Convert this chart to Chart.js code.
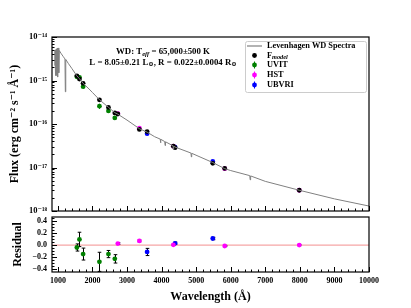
<!DOCTYPE html>
<html><head><meta charset="utf-8">
<script src="https://cdn.jsdelivr.net/npm/chart.js@4.4.1/dist/chart.umd.min.js"></script>
<style>
html,body{margin:0;padding:0;background:#fff;}
#wrap{position:relative;width:411px;height:308px;}
#wrap canvas{position:absolute;left:0;top:0;}
</style></head>
<body><div id="wrap"><canvas id="c1" width="411" height="308"></canvas><canvas id="c2" width="411" height="308"></canvas></div>
<script>
// ---- model spectrum (Levenhagen WD) ----
const specWave = [912,918,923,929,934,941,947,956,967,980,993,1005,1026,1040,1100,1150,1205,1216,1228,1300,1400,1500,1549,1624,1730,1900,2000,2202,2463,2647,2734,3000,3358,3581,3800,3960,3970,3980,4090,4102,4114,4330,4340,4350,4390,4850,4861,4872,5480,5826,6000,6550,6563,6576,7000,7983,9000,10000];
const specFlux = [2.2e-15,4.9e-15,1.3e-15,5.0e-15,1.4e-15,5.1e-15,1.3e-15,5.3e-15,1.4e-15,5.5e-15,1.2e-15,5.6e-15,1.5e-15,4.9e-15,4.1e-15,3.6e-15,3.13e-15,5.5e-16,3.05e-15,2.48e-15,1.91e-15,1.46e-15,1.28e-15,1.1e-15,8.6e-16,6.4e-16,5.3e-16,3.62e-16,2.42e-16,1.82e-16,1.68e-16,1.23e-16,7.8e-17,6.5e-17,5.1e-17,4.5e-17,3.7e-17,4.45e-17,3.95e-17,3.2e-17,3.9e-17,3.15e-17,2.6e-17,3.1e-17,2.95e-17,2.15e-17,1.75e-17,2.12e-17,1.3e-17,9.4e-18,8.5e-18,6.5e-18,5.2e-18,6.4e-18,4.8e-18,3.0e-18,1.9e-18,1.3e-18];

// ---- photometry ----
const uvitWave = [1549,1624,1730,2202,2463,2647];
const uvitFlux = [1.22e-15,1.18e-15,7.2e-16,2.57e-16,2.0e-16,1.38e-16];
const uvitErr  = [8e-17,1.2e-16,6e-17,3.5e-17,1.5e-17,1.0e-17];
const uvitModel= [1.28e-15,1.08e-15,8.6e-16,3.6e-16,2.4e-16,1.8e-16];
const uvitRes  = [-0.04,0.095,-0.15,-0.28,-0.15,-0.23];
const uvitResErr=[0.06,0.12,0.1,0.16,0.06,0.07];

const hstWave = [2734,3358,4341,5826,7983];
const hstFlux = [1.74e-16,8.0e-17,3.1e-17,9.4e-18,3.0e-18];
const hstErr  = [1.0e-17,4e-18,1.5e-18,5e-19,1.5e-19];
const hstModel= [1.7e-16,7.5e-17,3.1e-17,9.5e-18,3.0e-18];
const hstRes  = [0.025,0.07,0.005,-0.015,0.0];
const hstResErr=[0.015,0.015,0.01,0.01,0.01];

const ubvriWave = [3581,4390,5480];
const ubvriFlux = [6.0e-17,2.95e-17,1.38e-17];
const ubvriErr  = [3e-18,1.5e-18,6e-19];
const ubvriModel= [6.7e-17,2.85e-17,1.25e-17];
const ubvriRes  = [-0.115,0.03,0.11];
const ubvriResErr=[0.06,0.02,0.02];

// ---- ticks ----
const xTicks = [1000,2000,3000,4000,5000,6000,7000,8000,9000,10000];
const xTickLabels = ['1000','2000','3000','4000','5000','6000','7000','8000','9000','10000'];
const fluxTicks = [1e-18,1e-17,1e-16,1e-15,1e-14];
const fluxTickLabels = ['10⁻¹⁸','10⁻¹⁷','10⁻¹⁶','10⁻¹⁵','10⁻¹⁴'];
const resTicks = [-0.4,-0.2,0,0.2,0.4];
const resTickLabels = ['−0.4','−0.2','0.0','0.2','0.4'];

const GREEN='#008000', MAGENTA='#ff00ff', BLUE='#0000ff', GRAY='#808080';
const SERIF='"Liberation Serif","DejaVu Serif",serif';
const XMIN=830, XMAX=10000;

function pts(xs, ys){ return xs.map((x,i)=>({x:x,y:ys[i]})); }

function drawFrame(chart){
  const a=chart.chartArea, ctx=chart.ctx;
  ctx.save(); ctx.strokeStyle='#000'; ctx.lineWidth=1.2;
  ctx.strokeRect(a.left, a.top, a.right-a.left, a.bottom-a.top);
  ctx.restore();
}
function drawXTicks(chart){
  const a=chart.chartArea, ctx=chart.ctx, xs=chart.scales.x;
  ctx.save(); ctx.strokeStyle='#000'; ctx.lineWidth=1;
  for(let v=1000; v<=XMAX; v+=200){
    const px=Math.round(xs.getPixelForValue(v))+0.5;
    const len = (v%1000===0)?5:2.5;
    ctx.beginPath(); ctx.moveTo(px,a.bottom); ctx.lineTo(px,a.bottom-len); ctx.stroke();
  }
  ctx.restore();
}
const errPlugin = {
  id:'errbars',
  beforeDatasetDraw(chart, args){
    const ds=chart.data.datasets[args.index];
    if(!ds.errors) return;
    const ctx=chart.ctx, xs=chart.scales.x, ys=chart.scales.y;
    ctx.save(); ctx.strokeStyle=ds.errColor||ds.backgroundColor; ctx.lineWidth=1;
    ds.data.forEach((p,i)=>{
      const e=ds.errors[i];
      const px=Math.round(xs.getPixelForValue(p.x))+0.5;
      const y1=ys.getPixelForValue(p.y-e), y2=ys.getPixelForValue(p.y+e);
      ctx.beginPath(); ctx.moveTo(px,y1); ctx.lineTo(px,y2); ctx.stroke();
      if(ds.cap){
        ctx.beginPath(); ctx.moveTo(px-ds.cap,y1); ctx.lineTo(px+ds.cap,y1);
        ctx.moveTo(px-ds.cap,y2); ctx.lineTo(px+ds.cap,y2); ctx.stroke();
      }
    });
    ctx.restore();
  }
};

function drawRich(ctx, segs, cx, y, base){
  let w=0;
  segs.forEach(s=>{ ctx.font=(s.it?'italic ':'')+'bold '+(s.sz||base)+'px '+SERIF; s.w=ctx.measureText(s.t).width; w+=s.w; });
  let x = (cx===null)? 0 : cx - w/2;
  return {w:w, draw:(x0)=>{ let xx=(x0!==undefined)?x0:x;
    segs.forEach(s=>{ ctx.font=(s.it?'italic ':'')+'bold '+(s.sz||base)+'px '+SERIF; ctx.fillText(s.t, xx, y+(s.dy||0)); xx+=s.w; }); }};
}

const mainDecor = {
  id:'mainDecor',
  afterDraw(chart){
    const ctx=chart.ctx, a=chart.chartArea, ys=chart.scales.y;
    drawFrame(chart); drawXTicks(chart);
    ctx.save(); ctx.strokeStyle='#000'; ctx.lineWidth=1;
    for(let d=-18; d<=-14; d++){
      for(let k=1;k<=9;k++){
        const v=k*Math.pow(10,d); if(v>1.0001e-14) break;
        const py=Math.round(ys.getPixelForValue(v))+0.5;
        const len=(k===1)?5:2.5;
        ctx.beginPath(); ctx.moveTo(a.left,py); ctx.lineTo(a.left+len,py); ctx.stroke();
      }
    }
    ctx.restore();
    // annotation
    ctx.save(); ctx.fillStyle='#000'; ctx.textBaseline='middle';
    const l1=drawRich(ctx,[{t:'WD: T'},{t:'eff',it:true,sz:6.5,dy:2},{t:' = 65,000±500 K'}],163,52,8.8); l1.draw();
    const l2=drawRich(ctx,[{t:'L = 8.05±0.21 L'},{t:'⊙',sz:6.5,dy:2},{t:', R = 0.022±0.0004 R'},{t:'⊙',sz:6.5,dy:2}],163,62.5,8.8); l2.draw();
    ctx.restore();
    // legend
    ctx.save();
    const bx=245, by=41, bw=121, bh=51;
    ctx.beginPath(); ctx.roundRect(bx+0.5,by+0.5,bw,bh,2);
    ctx.fillStyle='rgba(255,255,255,0.85)'; ctx.fill();
    ctx.strokeStyle='#cccccc'; ctx.lineWidth=1; ctx.stroke();
    const rows=[46,55.5,65,75,85];
    ctx.strokeStyle=GRAY; ctx.lineWidth=1.2;
    ctx.beginPath(); ctx.moveTo(247,rows[0]); ctx.lineTo(262,rows[0]); ctx.stroke();
    const mk=[['#000',false],[GREEN,true],[MAGENTA,true],[BLUE,true]];
    mk.forEach((m,i)=>{
      const y=rows[i+1];
      if(m[1]){ ctx.strokeStyle=m[0]; ctx.lineWidth=1; ctx.beginPath(); ctx.moveTo(254.5,y-3.5); ctx.lineTo(254.5,y+3.5); ctx.stroke(); }
      ctx.fillStyle=m[0]; ctx.beginPath(); ctx.arc(254.5,y,2.4,0,Math.PI*2); ctx.fill();
    });
    ctx.fillStyle='#000'; ctx.textBaseline='middle';
    ctx.font='bold 8.3px '+SERIF;
    ctx.fillText('Levenhagen WD Spectra',267,rows[0]);
    const f=drawRich(ctx,[{t:'F'},{t:'model',it:true,sz:6.3,dy:2}],null,rows[1],8.3); f.draw(267);
    ctx.font='bold 8.3px '+SERIF;
    ctx.fillText('UVIT',267,rows[2]); ctx.fillText('HST',267,rows[3]); ctx.fillText('UBVRI',267,rows[4]);
    ctx.restore();
  }
};

const resDecor = {
  id:'resDecor',
  beforeDatasetsDraw(chart){
    const ctx=chart.ctx, a=chart.chartArea, ys=chart.scales.y;
    const py=ys.getPixelForValue(0);
    ctx.save(); ctx.strokeStyle='#f6a6a6'; ctx.lineWidth=1.3;
    ctx.beginPath(); ctx.moveTo(a.left,py); ctx.lineTo(a.right,py); ctx.stroke(); ctx.restore();
  },
  afterDraw(chart){
    const ctx=chart.ctx, a=chart.chartArea, ys=chart.scales.y;
    drawFrame(chart); drawXTicks(chart);
    ctx.save(); ctx.strokeStyle='#000'; ctx.lineWidth=1;
    for(let i=-8;i<=9;i++){
      const v=i*0.05; const py=Math.round(ys.getPixelForValue(v))+0.5;
      if(py<a.top+1||py>a.bottom-1) continue;
      const len=(i%4===0)?5:2.5;
      ctx.beginPath(); ctx.moveTo(a.left,py); ctx.lineTo(a.left+len,py); ctx.stroke();
    }
    ctx.restore();
  }
};

const tickFont={family:SERIF,size:8,weight:'bold'};
const logTickFont={family:SERIF,size:8.5,weight:'bold'};
const titleFont={family:SERIF,size:12,weight:'bold'};

new Chart(document.getElementById('c1'),{
  type:'scatter',
  data:{datasets:[
    {type:'line',data:pts(specWave,specFlux),borderColor:GRAY,borderWidth:1,pointRadius:0,fill:false,tension:0},
    {data:pts([].concat(uvitWave,hstWave,ubvriWave),[].concat(uvitModel,hstModel,ubvriModel)),backgroundColor:'#000',borderWidth:0,pointRadius:2.4},
    {data:pts(uvitWave,uvitFlux),errors:uvitErr,backgroundColor:GREEN,borderWidth:0,pointRadius:2.4},
    {data:pts(hstWave,hstFlux),errors:hstErr,backgroundColor:MAGENTA,borderWidth:0,pointRadius:2.4},
    {data:pts(ubvriWave,ubvriFlux),errors:ubvriErr,backgroundColor:BLUE,borderWidth:0,pointRadius:2.4}
  ]},
  options:{
    responsive:false, animation:false, devicePixelRatio:1,
    layout:{padding:{left:0,top:37,right:42,bottom:97}},
    plugins:{legend:{display:false},tooltip:{enabled:false}},
    scales:{
      x:{type:'linear',min:XMIN,max:XMAX,display:false},
      y:{type:'logarithmic',min:1e-18,max:1e-14,
        afterBuildTicks:(s)=>{s.ticks=fluxTicks.map(v=>({value:v}));},
        afterFit:(s)=>{s.width=52;},
        grid:{display:false,drawTicks:false}, border:{display:false},
        ticks:{font:logTickFont,color:'#000',padding:5,autoSkip:false,callback:(v,i)=>fluxTickLabels[i]},
        title:{display:true,text:'Flux (erg cm⁻² s⁻¹ Å⁻¹)',font:titleFont,color:'#000',padding:{top:8,bottom:0}}
      }
    }
  },
  plugins:[errPlugin, mainDecor]
});

new Chart(document.getElementById('c2'),{
  type:'scatter',
  data:{datasets:[
    {data:pts(uvitWave,uvitRes),errors:uvitResErr,errColor:'#000',cap:1.8,backgroundColor:GREEN,borderWidth:0,pointRadius:2.4},
    {data:pts(hstWave,hstRes),errors:hstResErr,errColor:'#000',cap:1.8,backgroundColor:MAGENTA,borderWidth:0,pointRadius:2.4},
    {data:pts(ubvriWave,ubvriRes),errors:ubvriResErr,errColor:'#000',cap:1.8,backgroundColor:BLUE,borderWidth:0,pointRadius:2.4}
  ]},
  options:{
    responsive:false, animation:false, devicePixelRatio:1,
    layout:{padding:{left:0,top:217,right:42,bottom:0}},
    plugins:{legend:{display:false},tooltip:{enabled:false}},
    scales:{
      x:{type:'linear',min:XMIN,max:XMAX,
        afterBuildTicks:(s)=>{s.ticks=xTicks.map(v=>({value:v}));},
        afterFit:(s)=>{s.height=36;},
        grid:{display:false,drawTicks:false}, border:{display:false},
        ticks:{font:tickFont,color:'#000',padding:4,autoSkip:false,maxRotation:0,callback:(v,i)=>xTickLabels[i]},
        title:{display:true,text:'Wavelength (Å)',font:titleFont,color:'#000',padding:{top:0,bottom:4}}
      },
      y:{type:'linear',min:-0.45,max:0.47,
        afterBuildTicks:(s)=>{s.ticks=resTicks.map(v=>({value:v}));},
        afterFit:(s)=>{s.width=52;},
        grid:{display:false,drawTicks:false}, border:{display:false},
        ticks:{font:tickFont,color:'#000',padding:5,autoSkip:false,callback:(v,i)=>resTickLabels[i]},
        title:{display:true,text:'Residual',font:titleFont,color:'#000',padding:{top:11,bottom:0}}
      }
    }
  },
  plugins:[errPlugin, resDecor]
});
</script></body></html>
